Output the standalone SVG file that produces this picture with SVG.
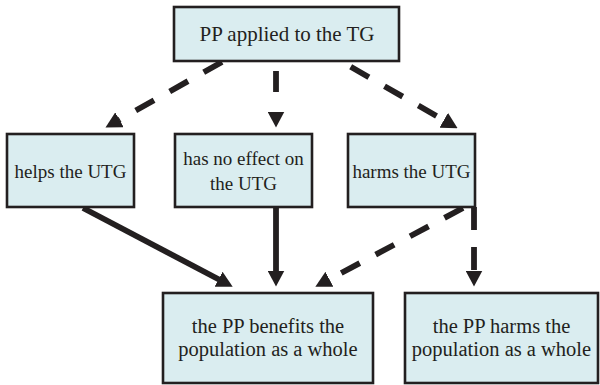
<svg xmlns="http://www.w3.org/2000/svg" width="600" height="385" viewBox="0 0 600 385">
<style>
.box{fill:#daedf0;stroke:#231f20;stroke-width:2.6}
.t{font-family:"Liberation Serif","Times New Roman",serif;fill:#231f20;text-anchor:middle}
.c{fill:none;stroke:#231f20;stroke-width:5.8}
.d{stroke-dasharray:21 18}
</style>
<defs>
<marker id="ah" viewBox="0 0 16 17" markerWidth="16" markerHeight="17" markerUnits="userSpaceOnUse" refX="0.5" refY="8.5" orient="auto">
<path d="M0,0 L16,8.5 L0,17 Z" fill="#231f20"/>
</marker>
</defs>
<g id="connectors">
<path class="c d" d="M222,62 L119,120" marker-end="url(#ah)"/>
<path class="c" d="M276,71 L276,112" stroke-dasharray="21 21" marker-end="url(#ah)"/>
<path class="c d" d="M350.7,66.7 L444.2,120.5" marker-end="url(#ah)"/>
<path class="c" d="M83,208 L219,279.5" marker-end="url(#ah)"/>
<path class="c" d="M276,207 L276,271" marker-end="url(#ah)"/>
<path class="c d" d="M463,208 L329,279.5" marker-end="url(#ah)"/>
<path class="c" d="M474,207 L474,271" stroke-dasharray="23 17" marker-end="url(#ah)"/>
</g>
<g id="n-top">
<rect class="box" x="174" y="7" width="225" height="54"/>
<text class="t" x="287" y="41" font-size="21">PP applied to the TG</text>
</g>
<g id="n-helps">
<rect class="box" x="7" y="134" width="127" height="73"/>
<text class="t" x="70.5" y="178" font-size="19">helps the UTG</text>
</g>
<g id="n-noeffect">
<rect class="box" x="175" y="134" width="137" height="73"/>
<text class="t" x="243.5" y="164.5" font-size="19">has no effect on</text>
<text class="t" x="243.5" y="190" font-size="19">the UTG</text>
</g>
<g id="n-harms">
<rect class="box" x="348" y="134" width="127" height="73"/>
<text class="t" x="411.5" y="178" font-size="19">harms the UTG</text>
</g>
<g id="n-benefits">
<rect class="box" x="163" y="293" width="210" height="90"/>
<text class="t" x="268" y="333" font-size="20.5">the PP benefits the</text>
<text class="t" x="268" y="356" font-size="20.5">population as a whole</text>
</g>
<g id="n-harmspop">
<rect class="box" x="405" y="293" width="193" height="90"/>
<text class="t" x="501.5" y="333" font-size="20.5">the PP harms the</text>
<text class="t" x="501.5" y="356" font-size="20.5">population as a whole</text>
</g>
</svg>
